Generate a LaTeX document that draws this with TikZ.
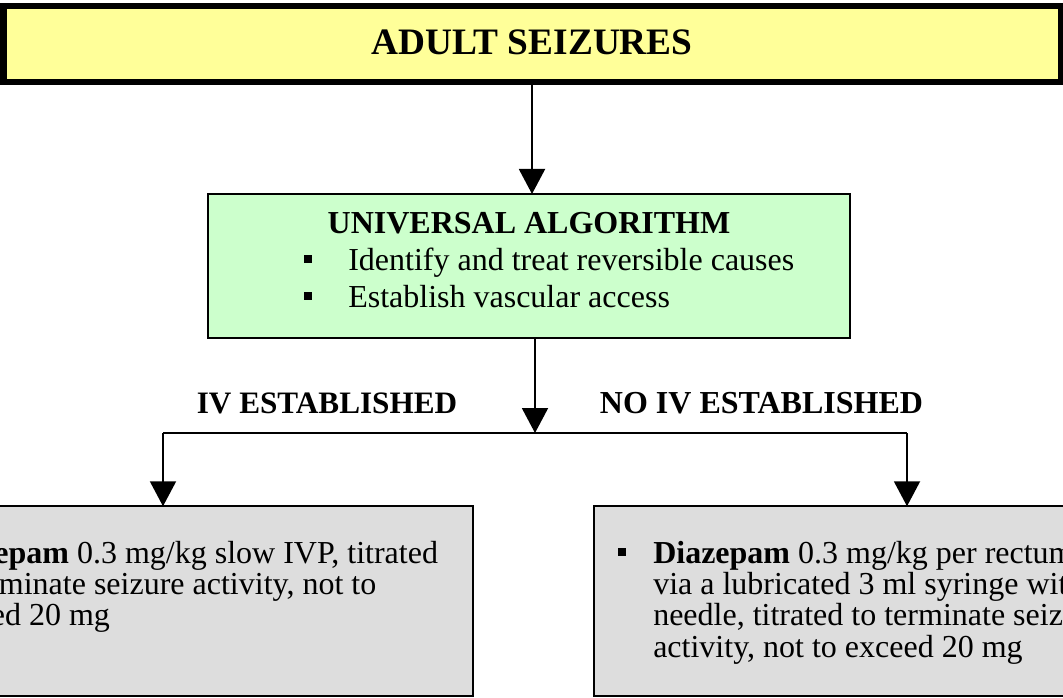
\documentclass[tikz,border=0pt]{standalone}
\usepackage{fontspec}
\setmainfont{Liberation Serif}
\usetikzlibrary{arrows.meta}
\definecolor{ttlyellow}{HTML}{FFFF99}
\definecolor{algogreen}{HTML}{CCFFCC}
\definecolor{boxgrey}{HTML}{DDDDDD}
\begin{document}
\begin{tikzpicture}[x=0.75pt,y=-0.75pt,
  titlebox/.style={draw=black, line width=4.5pt, fill=ttlyellow, minimum width=792.75pt, minimum height=57pt, inner sep=0pt, outer sep=0pt, font=\fontsize{28pt}{32pt}\selectfont\bfseries, text height=18.5pt, text depth=3pt},
  algobox/.style={draw=black, line width=1.5pt, fill=algogreen, minimum width=481.5pt, minimum height=108pt, inner sep=0pt, outer sep=0pt},
  drugbox/.style={draw=black, line width=1.5pt, fill=boxgrey, minimum width=442.5pt, minimum height=142.5pt, inner sep=0pt, outer sep=0pt},
  txt/.style={anchor=base west, inner sep=0pt, font=\fontsize{24pt}{28pt}\selectfont},
  head/.style={anchor=base, inner sep=0pt, font=\fontsize{24pt}{28pt}\selectfont\bfseries},
  lab/.style={anchor=base, inner sep=0pt, font=\fontsize{23.4pt}{28pt}\selectfont\bfseries},
  bul/.style={fill=black, inner sep=0pt, minimum size=6.5pt},
  conn/.style={draw=black, line width=1.5pt},
  arr/.style={conn, -{Triangle[length=18.75pt,width=19.5pt]}}
]
\path[use as bounding box] (0,0) rectangle (1063,698);
\clip (0,0) rectangle (1063,698);

% title
\node[titlebox] (title) at (532,44) {ADULT SEIZURES};

% universal algorithm
\node[algobox] (algo) at (529,266) {};
\node[head] (algohead) at (529,234) {UNIVERSAL ALGORITHM};
\node[bul] (b1) at (308,259) {};
\node[txt] (t1) at (348,270.7) {Identify and treat reversible causes};
\node[bul] (b2) at (308,296) {};
\node[txt] (t2) at (348,307.7) {Establish vascular access};

% branch labels
\node[lab] (ivlab) at (327,413) {IV ESTABLISHED};
\node[lab, font=\fontsize{24pt}{28pt}\selectfont\bfseries] (noivlab) at (761.5,413) {NO IV ESTABLISHED};

% drug boxes
\node[drugbox] (lbox) at (178,601.25) {};
\node[drugbox] (rbox) at (889,601.25) {};

\node[bul] (lb) at (-98,552) {};
\node[txt] (l1) at (-68,563) {\textbf{Diazepam} 0.3 mg/kg slow IVP, titrated};
\node[txt] (l2) at (-68,594.3) {to terminate seizure activity, not to};
\node[txt] (l3) at (-68,625.6) {exceed 20 mg};

\node[bul] (rb) at (622,552) {};
\node[txt] (r1) at (653,563) {\textbf{Diazepam} 0.3 mg/kg per rectum};
\node[txt] (r2) at (653,594.3) {via a lubricated 3 ml syringe without};
\node[txt] (r3) at (653,625.6) {needle, titrated to terminate seizure};
\node[txt] (r4) at (653,657) {activity, not to exceed 20 mg};

% connectors
\coordinate (jl) at (163,433);
\coordinate (jm) at (535,433);
\coordinate (jr) at (907,433);
\draw[arr] (title.south) -- (title.south |- algo.north);
\draw[arr] (algo.south -| jm) -- (jm);
\draw[conn] (jl) -- (jr);
\draw[arr] (jl) -- (jl |- lbox.north);
\draw[arr] (jr) -- (jr |- rbox.north);
\end{tikzpicture}
\end{document}
